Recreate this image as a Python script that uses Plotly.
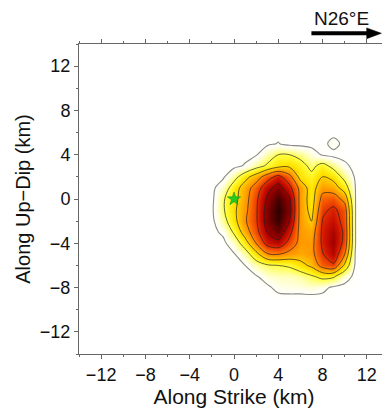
import plotly.graph_objects as go

# Along-strike (km) and along-up-dip (km) grid nodes
x_km = [-3, -2, -1, 0, 1, 2, 3, 4, 5, 6, 7, 8, 9, 10, 11, 12, 13]
y_km_top_down = [7, 6, 5, 4, 3, 2, 1, 0, -1, -2, -3, -4, -5, -6, -7, -8, -9, -10]

# Normalised slip (rows from y=7 down to y=-10)
slip_top_down = [
    [0, 0, 0, 0, 0, 0, 0, 0, 0, 0, 0, 0, 0, 0, 0, 0, 0],
    [0, 0, 0, 0, 0, 0, 0, 0, 0, 0, 0, 0, 0, 0, 0, 0, 0],
    [0, 0, 0, 0, 0, 0, 0.01, 0.035, 0, 0, 0, 0, 0.065, 0, 0, 0, 0],
    [0, 0, 0, 0, 0, 0.02, 0.12, 0.2, 0.2, 0.15, 0.08, 0.02, 0, 0, 0, 0, 0],
    [0, 0, 0, 0, 0.04, 0.14, 0.22, 0.3, 0.32, 0.26, 0.16, 0.25, 0.15, 0.05, 0, 0, 0],
    [0, 0, 0.01, 0.14, 0.3, 0.42, 0.58, 0.7, 0.55, 0.3, 0.24, 0.35, 0.3, 0.15, 0.01, 0, 0],
    [0, 0, 0.1, 0.28, 0.42, 0.57, 0.75, 0.86, 0.7, 0.45, 0.28, 0.45, 0.42, 0.28, 0.02, 0, 0],
    [0, 0, 0.18, 0.3, 0.44, 0.62, 0.82, 0.96, 0.82, 0.45, 0.28, 0.55, 0.58, 0.45, 0.02, 0, 0],
    [0, 0.01, 0.18, 0.32, 0.46, 0.63, 0.86, 1.0, 0.85, 0.45, 0.3, 0.62, 0.68, 0.58, 0.02, 0, 0],
    [0, 0, 0.14, 0.3, 0.48, 0.63, 0.86, 0.98, 0.8, 0.45, 0.35, 0.66, 0.72, 0.6, 0.02, 0, 0],
    [0, 0, 0.05, 0.22, 0.42, 0.6, 0.8, 0.9, 0.7, 0.45, 0.42, 0.68, 0.78, 0.62, 0.02, 0, 0],
    [0, 0, 0, 0.1, 0.28, 0.5, 0.7, 0.75, 0.6, 0.45, 0.45, 0.68, 0.8, 0.6, 0.02, 0, 0],
    [0, 0, 0, 0.02, 0.12, 0.3, 0.48, 0.5, 0.45, 0.42, 0.45, 0.64, 0.76, 0.5, 0, 0, 0],
    [0, 0, 0, 0, 0.03, 0.12, 0.18, 0.2, 0.22, 0.3, 0.38, 0.56, 0.62, 0.32, 0, 0, 0],
    [0, 0, 0, 0, 0, 0.02, 0.08, 0.1, 0.1, 0.12, 0.18, 0.24, 0.22, 0.08, 0, 0, 0],
    [0, 0, 0, 0, 0, 0, 0.01, 0.06, 0.07, 0.07, 0.08, 0.06, 0.01, 0, 0, 0, 0],
    [0, 0, 0, 0, 0, 0, 0, 0, 0, 0, 0, 0, 0, 0, 0, 0, 0],
    [0, 0, 0, 0, 0, 0, 0, 0, 0, 0, 0, 0, 0, 0, 0, 0, 0],
]

y_km = y_km_top_down[::-1]
slip = slip_top_down[::-1]

hypo_x = [0.0]
hypo_y = [0.0]

tick_vals = [-12, -8, -4, 0, 4, 8, 12]
minor_vals = [-14, -10, -6, -2, 2, 6, 10, 14]

colorscale = [
    [0.0, "#ffffff"],
    [0.06, "#fffff0"],
    [0.13, "#ffffa0"],
    [0.2, "#ffff40"],
    [0.3, "#ffe400"],
    [0.4, "#ffb400"],
    [0.5, "#ff8000"],
    [0.6, "#f04800"],
    [0.7, "#d01400"],
    [0.8, "#a00000"],
    [0.9, "#680000"],
    [1.0, "#2a0000"],
]

fig = go.Figure()
fig.add_trace(go.Heatmap(
    x=x_km, y=y_km, z=slip, zmin=0, zmax=1, zsmooth="best",
    colorscale=colorscale, showscale=False, hoverinfo="skip",
))
fig.add_trace(go.Contour(
    x=x_km, y=y_km, z=slip, showscale=False, hoverinfo="skip",
    contours=dict(coloring="none", start=0.2, end=0.8, size=0.15),
    line=dict(color="rgba(30,30,30,0.85)", width=0.8, smoothing=1.0),
))
fig.add_trace(go.Contour(
    x=x_km, y=y_km, z=slip, showscale=False, hoverinfo="skip",
    contours=dict(coloring="none", start=0.03, end=0.03, size=1),
    line=dict(color="#8a8a8a", width=1.1, smoothing=1.0),
))
fig.add_trace(go.Scatter(
    x=hypo_x, y=hypo_y, mode="markers", hoverinfo="skip",
    marker=dict(symbol="star", size=10, color="#22cc22",
                line=dict(color="#118811", width=0.5)),
))

axis_common = dict(
    range=[-14, 14], tickvals=tick_vals, ticks="outside", ticklen=4,
    tickcolor="#666666", linecolor="#666666", linewidth=1, mirror="ticks",
    showgrid=False, zeroline=False, showline=True, automargin=False,
    tickfont=dict(size=18, color="#111111"),
    minor=dict(tickvals=minor_vals, ticks="outside", ticklen=2, tickcolor="#666666"),
)

# page body has an 8px default margin, so the figure is 8px smaller
fig.update_layout(
    width=382, height=404,
    margin=dict(l=71, r=1, t=36, b=58),
    paper_bgcolor="white", plot_bgcolor="white",
    showlegend=False,
    font=dict(family="Liberation Sans, Arial, sans-serif", color="#111111"),
    xaxis=dict(axis_common, title=dict(text="Along Strike (km)", font=dict(size=21), standoff=3)),
    yaxis=dict(axis_common, title=dict(text="Along Up\u2212Dip (km)", font=dict(size=20), standoff=3)),
    annotations=[dict(
        text="N26\u00b0E", xref="paper", yref="paper", x=0.848, y=1.083,
        showarrow=False, font=dict(size=19, color="#111111"),
        xanchor="center", yanchor="middle",
    )],
    shapes=[
        dict(type="line", xref="paper", yref="paper", x0=0.7497, x1=0.935,
             y0=1.0345, y1=1.0345, line=dict(color="black", width=4)),
        dict(type="path", xref="paper", yref="paper",
             path="M 0.928 1.052 L 0.9755 1.0345 L 0.928 1.017 Z",
             fillcolor="black", line=dict(color="black", width=0.5)),
    ],
)

fig.write_html("out.html")
